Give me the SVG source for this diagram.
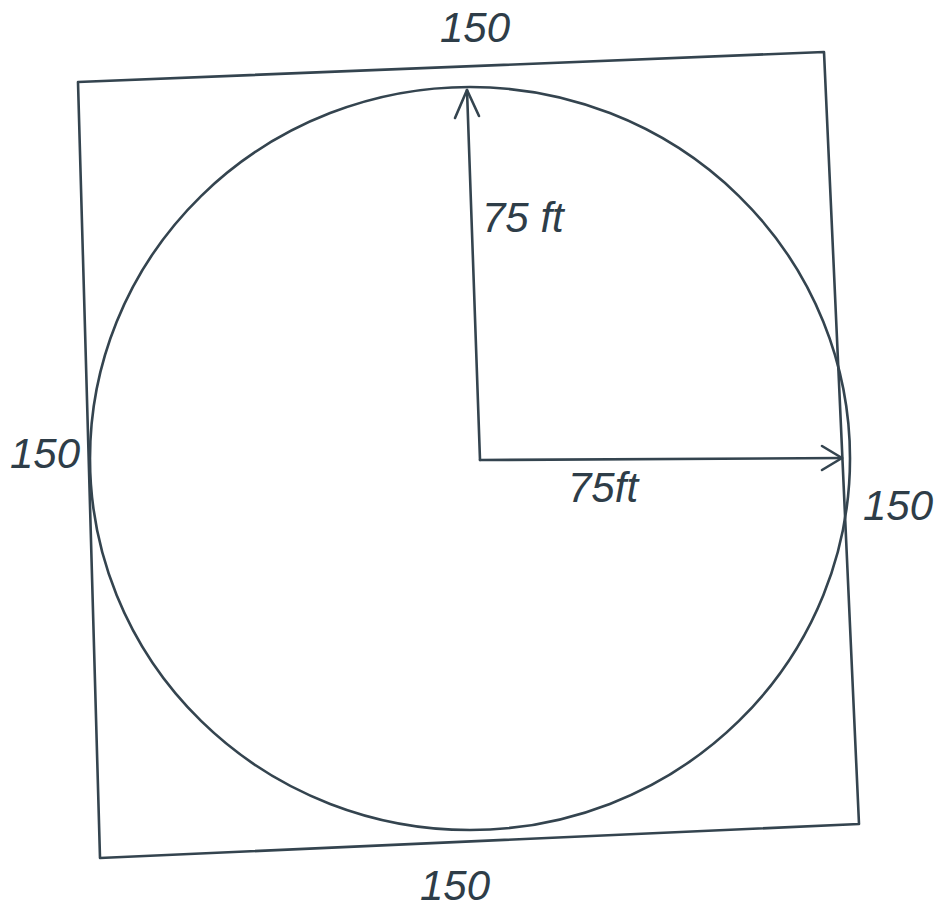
<svg xmlns="http://www.w3.org/2000/svg" width="935" height="913" viewBox="0 0 935 913">
<style>
.ln{fill:none;stroke:#34444f;stroke-width:2.6;stroke-linecap:round;stroke-linejoin:round}
.t{font-family:"Liberation Sans",Arial,sans-serif;font-size:42px;fill:#2e3d48;font-style:italic}
</style>
<rect width="935" height="913" fill="#ffffff"/>
<g id="square">
<path class="ln" d="M78,82 L824,52 L859,824 L100,858 Z"/>
</g>
<g id="circle">
<ellipse class="ln" cx="470" cy="458.5" rx="380" ry="371.5"/>
</g>
<g id="connectors">
<path class="ln" d="M480,460 L467,90"/>
<path class="ln" d="M455,118 L467,90 L479,116"/>
<path class="ln" d="M480,460 L842,458"/>
<path class="ln" d="M822,446 L842,458 L822,470"/>
</g>
<g id="labels">
<text class="t" x="475" y="42" text-anchor="middle">150</text>
<text class="t" x="482" y="232" font-size="36">75 ft</text>
<text class="t" x="568" y="502" font-size="36">75ft</text>
<text class="t" x="45" y="468" text-anchor="middle">150</text>
<text class="t" x="898" y="520" text-anchor="middle">150</text>
<text class="t" x="455" y="900" text-anchor="middle">150</text>
</g>
</svg>
